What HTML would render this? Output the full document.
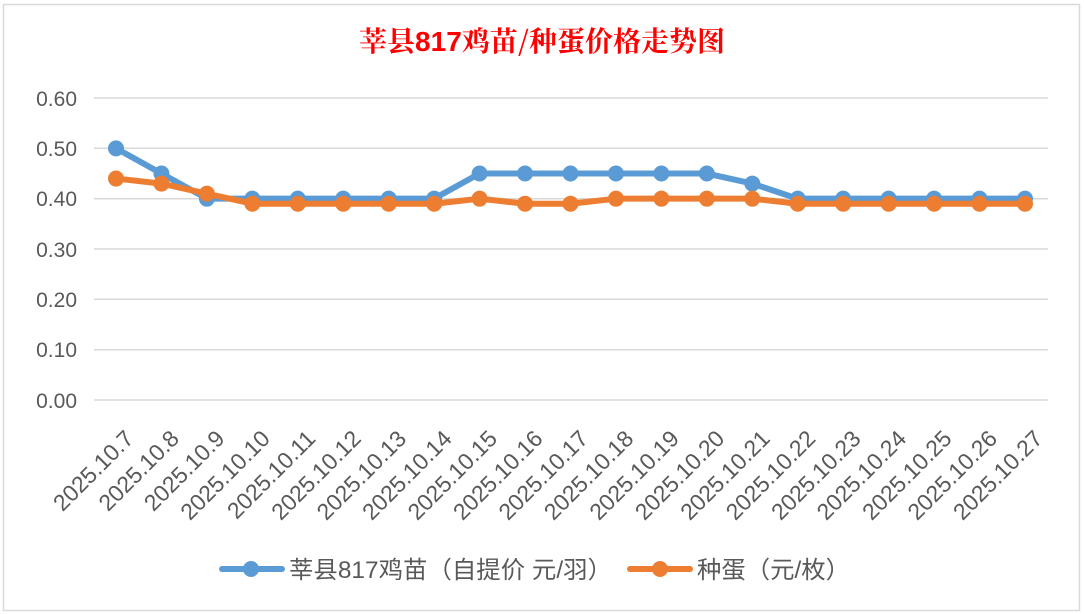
<!DOCTYPE html>
<html><head><meta charset="utf-8"><style>
body{margin:0;background:#fff;}
svg{display:block;font-family:"Liberation Sans","Noto Sans CJK SC",sans-serif;}
</style></head><body>
<svg width="1084" height="614" xmlns="http://www.w3.org/2000/svg">
<rect x="0" y="0" width="1084" height="614" fill="#fff"/>
<rect x="3.5" y="4.5" width="1076" height="606" fill="#fff" stroke="#d9d9d9" stroke-width="1.5"/>
<text x="542" y="51" text-anchor="middle" fill="#ff0000" font-size="28" font-family="'Noto Serif CJK SC','Noto Sans CJK SC',serif" font-weight="bold">莘县<tspan font-family="'Liberation Sans',sans-serif">817</tspan>鸡苗/种蛋价格走势图</text>
<g stroke="#d9d9d9" stroke-width="1.5">
<line x1="94" y1="98" x2="1048" y2="98"/>
<line x1="94" y1="148.3" x2="1048" y2="148.3"/>
<line x1="94" y1="198.7" x2="1048" y2="198.7"/>
<line x1="94" y1="249" x2="1048" y2="249"/>
<line x1="94" y1="299.3" x2="1048" y2="299.3"/>
<line x1="94" y1="349.7" x2="1048" y2="349.7"/>
<line x1="94" y1="400" x2="1048" y2="400"/>
</g>
<g fill="#595959" font-size="21" text-anchor="end">
<text x="77" y="106">0.60</text>
<text x="77" y="156">0.50</text>
<text x="77" y="206">0.40</text>
<text x="77" y="257">0.30</text>
<text x="77" y="307">0.20</text>
<text x="77" y="357">0.10</text>
<text x="77" y="408">0.00</text>
</g>
<g id="labels" fill="#595959" font-size="23" text-anchor="end"></g>
<g id="series"></g>
<g fill="#595959">
<line x1="222" y1="569" x2="282" y2="569" stroke="#5b9bd5" stroke-width="6" stroke-linecap="round"/>
<circle cx="251" cy="569" r="8" fill="#5b9bd5"/>
<text x="289" y="578" font-size="24" textLength="323" lengthAdjust="spacingAndGlyphs">莘县817鸡苗（自提价 元/羽）</text>
<line x1="630" y1="569" x2="690" y2="569" stroke="#ed7d31" stroke-width="6" stroke-linecap="round"/>
<circle cx="660" cy="569" r="8" fill="#ed7d31"/>
<text x="697" y="578" font-size="24" textLength="153" lengthAdjust="spacingAndGlyphs">种蛋（元/枚）</text>
</g>
<script>
var blue=[.50,.45,.40,.40,.40,.40,.40,.40,.45,.45,.45,.45,.45,.45,.43,.40,.40,.40,.40,.40,.40];
var org=[.44,.43,.41,.39,.39,.39,.39,.39,.40,.39,.39,.40,.40,.40,.40,.39,.39,.39,.39,.39,.39];
var ns="http://www.w3.org/2000/svg";
function X(i){return 116+i*45.45;}
function Y(v){return 400-v*503.3;}
var s=document.getElementById("series"),l=document.getElementById("labels");
[[blue,"#5b9bd5"],[org,"#ed7d31"]].forEach(function(d){
 var p=document.createElementNS(ns,"polyline");
 p.setAttribute("points",d[0].map(function(v,i){return X(i)+","+Y(v);}).join(" "));
 p.setAttribute("fill","none");p.setAttribute("stroke",d[1]);p.setAttribute("stroke-width","6");p.setAttribute("stroke-linejoin","round");
 s.appendChild(p);
 d[0].forEach(function(v,i){var c=document.createElementNS(ns,"circle");c.setAttribute("cx",X(i));c.setAttribute("cy",Y(v));c.setAttribute("r","8");c.setAttribute("fill",d[1]);s.appendChild(c);});
});
for(var i=0;i<21;i++){var t=document.createElementNS(ns,"text");var x=X(i)+19,y=440;
 t.setAttribute("x",x);t.setAttribute("y",y);t.setAttribute("transform","rotate(-45 "+x+" "+y+")");t.textContent="2025.10."+(7+i);l.appendChild(t);}
</script>
</svg>
</body></html>
